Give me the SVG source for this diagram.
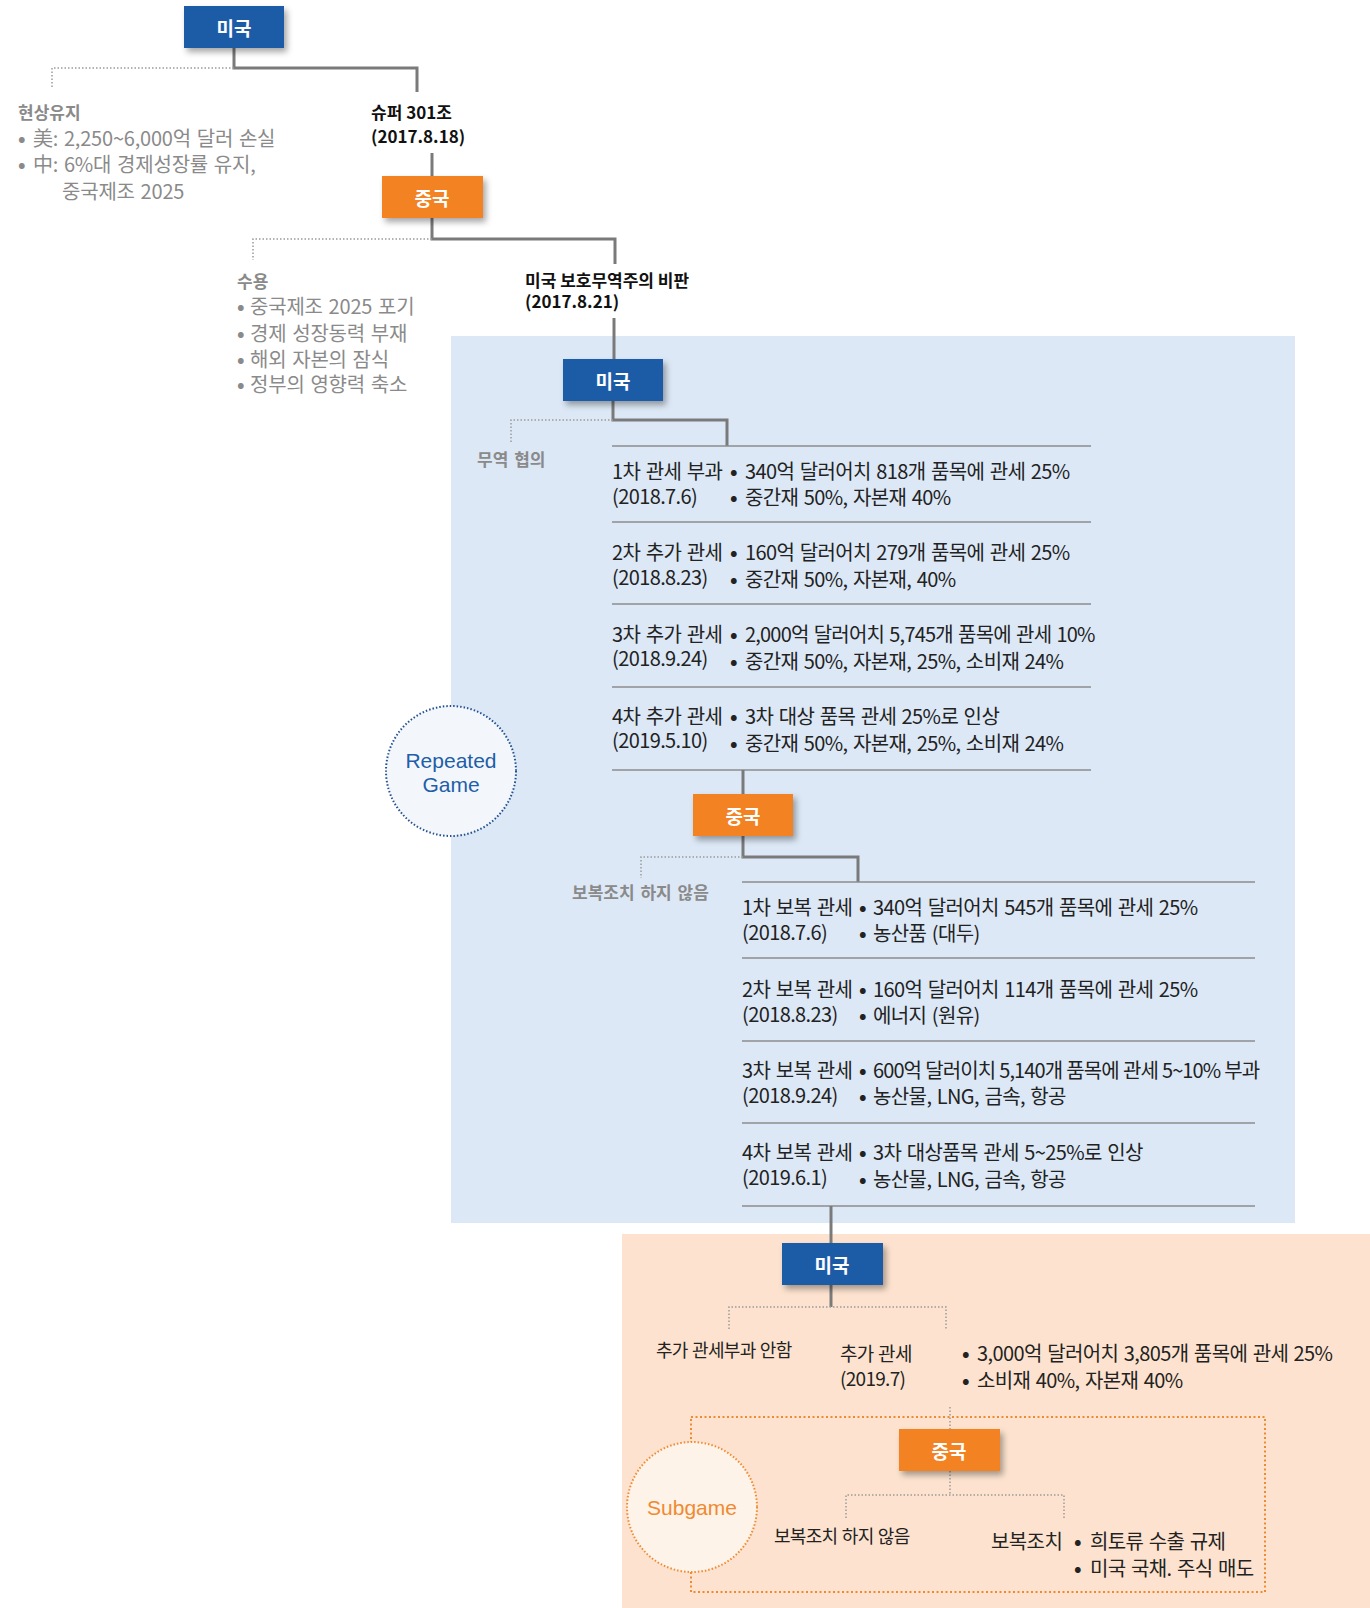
<svg xmlns="http://www.w3.org/2000/svg" width="1370" height="1608" viewBox="0 0 1370 1608">
<defs>
<filter id="sh" x="-20%" y="-20%" width="150%" height="170%">
<feDropShadow dx="3" dy="4" stdDeviation="3" flood-color="#000" flood-opacity="0.35"/>
</filter>
<style>
text{font-family:"Noto Sans CJK KR","Noto Sans",sans-serif;dominant-baseline:central}
.bb{fill:#1c5ba7}
.bo{fill:#f28224}
.lbl{fill:#fff;font-size:19px;font-weight:700;text-anchor:middle}
.conn{stroke:#7a7a7a;stroke-width:3;fill:none}
.dot{stroke:#9a9a9a;stroke-width:1.5;stroke-dasharray:1.5 2;fill:none}
.sep{stroke:#8c8c8c;stroke-width:1.5;fill:none}
.t{font-size:20px;fill:#222;letter-spacing:-0.6px;word-spacing:1.5px}
.g{font-size:20px;fill:#8a8a8a;letter-spacing:-0.2px;word-spacing:1.5px}
.gb{font-size:17px;fill:#8a8a8a;font-weight:700;letter-spacing:0px;word-spacing:2px}
.h{font-size:17px;fill:#111;font-weight:700;letter-spacing:0px}
.s{font-size:18px;fill:#222;letter-spacing:-0.7px;word-spacing:1px}
.b{font-weight:700}
.en{font-family:"Liberation Sans",Arial,sans-serif;font-size:21px;text-anchor:middle}
</style>
</defs>

<!-- backgrounds -->
<rect x="451" y="336" width="844" height="887" fill="#dce8f6"/>
<rect x="622" y="1234" width="748" height="374" fill="#fde3cf"/>

<!-- connectors -->
<g id="connectors">
<polyline class="conn" points="234,48 234,68 417,68 417,92"/>
<polyline class="dot" points="234,68 52,68 52,89"/>
<line class="conn" x1="432" y1="153" x2="432" y2="176"/>
<polyline class="conn" points="432,218 432,239 615,239 615,264"/>
<polyline class="dot" points="432,239 253,239 253,260"/>
<line class="conn" x1="614" y1="318" x2="614" y2="359"/>
<polyline class="conn" points="613,401 613,420 727,420 727,446"/>
<polyline class="dot" points="613,420 511,420 511,444"/>
<line class="sep" x1="612" y1="446" x2="1091" y2="446"/>
<line class="sep" x1="612" y1="522" x2="1091" y2="522"/>
<line class="sep" x1="612" y1="604" x2="1091" y2="604"/>
<line class="sep" x1="612" y1="687" x2="1091" y2="687"/>
<line class="sep" x1="612" y1="770" x2="1091" y2="770"/>
<line class="conn" x1="743" y1="770" x2="743" y2="794"/>
<polyline class="conn" points="743,836 743,857 858,857 858,882"/>
<polyline class="dot" points="743,857 641,857 641,878"/>
<line class="sep" x1="742" y1="882" x2="1255" y2="882"/>
<line class="sep" x1="742" y1="958" x2="1255" y2="958"/>
<line class="sep" x1="742" y1="1041" x2="1255" y2="1041"/>
<line class="sep" x1="742" y1="1123" x2="1255" y2="1123"/>
<line class="sep" x1="742" y1="1206" x2="1255" y2="1206"/>
<line class="conn" x1="831" y1="1206" x2="831" y2="1243"/>
<line class="conn" x1="831" y1="1285" x2="831" y2="1307"/>
<polyline class="dot" points="729,1329 729,1307 946,1307 946,1329"/>
<line class="dot" x1="950" y1="1407" x2="950" y2="1429"/>
<line class="dot" x1="950" y1="1471" x2="950" y2="1495"/>
<polyline class="dot" points="846,1518 846,1495 1064,1495 1064,1518"/>
<rect x="691" y="1417" width="574" height="175" fill="none" stroke="#f08a30" stroke-width="2" stroke-dasharray="2 2.5"/>
</g>

<!-- nodes -->
<g id="usa1"><rect class="bb" x="184" y="6" width="100" height="42" filter="url(#sh)"/><text class="lbl" x="234" y="27">미국</text></g>
<g id="status-quo">
<text class="gb" x="18" y="111">현상유지</text>
<text class="g" x="18" y="137"><tspan class="b">•</tspan><tspan x="33">美: 2,250~6,000억 달러 손실</tspan><tspan x="18" dy="26" class="b">•</tspan><tspan x="33">中: 6%대 경제성장률 유지,</tspan><tspan x="62" dy="27">중국제조 2025</tspan></text>
</g>
<g id="super301">
<text class="h" x="371" y="111">슈퍼 301조<tspan x="371" dy="24">(2017.8.18)</tspan></text>
</g>
<g id="china1"><rect class="bo" x="382" y="176" width="101" height="42" filter="url(#sh)"/><text class="lbl" x="432" y="197">중국</text></g>
<g id="accept">
<text class="gb" x="237" y="280">수용</text>
<text class="g" x="237" y="305"><tspan class="b">•</tspan><tspan x="250">중국제조 2025 포기</tspan><tspan x="237" dy="27" class="b">•</tspan><tspan x="250">경제 성장동력 부재</tspan><tspan x="237" dy="26" class="b">•</tspan><tspan x="250">해외 자본의 잠식</tspan><tspan x="237" dy="25" class="b">•</tspan><tspan x="250">정부의 영향력 축소</tspan></text>
</g>
<g id="criticism">
<text class="h" x="525" y="279">미국 보호무역주의 비판<tspan x="525" dy="21">(2017.8.21)</tspan></text>
</g>
<g id="usa2"><rect class="bb" x="563" y="359" width="100" height="42" filter="url(#sh)"/><text class="lbl" x="613" y="380">미국</text></g>
<g id="trade-talks"><text class="gb" x="477" y="458">무역 협의</text></g>
<g id="us-tariffs">
<text class="t" x="612" y="470">1차 관세 부과<tspan x="612" dy="25">(2018.7.6)</tspan></text>
<text class="t" x="730" y="470"><tspan class="b">•</tspan><tspan x="745">340억 달러어치 818개 품목에 관세 25%</tspan><tspan x="730" dy="26" class="b">•</tspan><tspan x="745">중간재 50%, 자본재 40%</tspan></text>
<text class="t" x="612" y="551">2차 추가 관세<tspan x="612" dy="25">(2018.8.23)</tspan></text>
<text class="t" x="730" y="551"><tspan class="b">•</tspan><tspan x="745">160억 달러어치 279개 품목에 관세 25%</tspan><tspan x="730" dy="27" class="b">•</tspan><tspan x="745">중간재 50%, 자본재, 40%</tspan></text>
<text class="t" x="612" y="633">3차 추가 관세<tspan x="612" dy="24">(2018.9.24)</tspan></text>
<text class="t" x="730" y="633"><tspan class="b">•</tspan><tspan x="745" style="letter-spacing:-0.8px">2,000억 달러어치 5,745개 품목에 관세 10%</tspan><tspan x="730" dy="27" class="b">•</tspan><tspan x="745">중간재 50%, 자본재, 25%, 소비재 24%</tspan></text>
<text class="t" x="612" y="715">4차 추가 관세<tspan x="612" dy="24">(2019.5.10)</tspan></text>
<text class="t" x="730" y="715"><tspan class="b">•</tspan><tspan x="745">3차 대상 품목 관세 25%로 인상</tspan><tspan x="730" dy="27" class="b">•</tspan><tspan x="745">중간재 50%, 자본재, 25%, 소비재 24%</tspan></text>
</g>
<g id="repeated-game">
<circle cx="451" cy="771" r="65" fill="#f3f7fc" stroke="#23508e" stroke-width="2" stroke-dasharray="1.5 2"/>
<text class="en" x="451" y="760" fill="#1f5ea8">Repeated<tspan x="451" dy="24">Game</tspan></text>
</g>
<g id="china2"><rect class="bo" x="693" y="794" width="100" height="42" filter="url(#sh)"/><text class="lbl" x="743" y="815">중국</text></g>
<g id="no-retaliation1"><text class="gb" x="572" y="891">보복조치 하지 않음</text></g>
<g id="cn-tariffs">
<text class="t" x="742" y="906">1차 보복 관세<tspan x="742" dy="25">(2018.7.6)</tspan></text>
<text class="t" x="859" y="906"><tspan class="b">•</tspan><tspan x="873">340억 달러어치 545개 품목에 관세 25%</tspan><tspan x="859" dy="26" class="b">•</tspan><tspan x="873">농산품 (대두)</tspan></text>
<text class="t" x="742" y="988">2차 보복 관세<tspan x="742" dy="25">(2018.8.23)</tspan></text>
<text class="t" x="859" y="988"><tspan class="b">•</tspan><tspan x="873">160억 달러어치 114개 품목에 관세 25%</tspan><tspan x="859" dy="26" class="b">•</tspan><tspan x="873">에너지 (원유)</tspan></text>
<text class="t" x="742" y="1069">3차 보복 관세<tspan x="742" dy="25">(2018.9.24)</tspan></text>
<text class="t" x="859" y="1069"><tspan class="b">•</tspan><tspan x="873" style="letter-spacing:-0.9px;word-spacing:0.5px">600억 달러이치 5,140개 품목에 관세 5~10% 부과</tspan><tspan x="859" dy="26" class="b">•</tspan><tspan x="873">농산물, LNG, 금속, 항공</tspan></text>
<text class="t" x="742" y="1151">4차 보복 관세<tspan x="742" dy="25">(2019.6.1)</tspan></text>
<text class="t" x="859" y="1151"><tspan class="b">•</tspan><tspan x="873">3차 대상품목 관세 5~25%로 인상</tspan><tspan x="859" dy="27" class="b">•</tspan><tspan x="873">농산물, LNG, 금속, 항공</tspan></text>
</g>
<g id="usa3"><rect class="bb" x="782" y="1243" width="101" height="42" filter="url(#sh)"/><text class="lbl" x="832" y="1264">미국</text></g>
<g id="no-extra"><text class="s" x="656" y="1349">추가 관세부과 안함</text></g>
<g id="extra-tariff">
<text class="s" x="840" y="1352" style="font-size:19px">추가 관세<tspan x="840" dy="25">(2019.7)</tspan></text>
<text class="t" x="962" y="1352"><tspan class="b">•</tspan><tspan x="977">3,000억 달러어치 3,805개 품목에 관세 25%</tspan><tspan x="962" dy="27" class="b">•</tspan><tspan x="977">소비재 40%, 자본재 40%</tspan></text>
</g>
<g id="china3"><rect class="bo" x="899" y="1429" width="101" height="42" filter="url(#sh)"/><text class="lbl" x="949" y="1450">중국</text></g>
<g id="subgame">
<circle cx="692" cy="1507" r="65" fill="#fdf3e9" stroke="#f08a30" stroke-width="2" stroke-dasharray="1.5 2"/>
<text class="en" x="692" y="1507" fill="#f08a30">Subgame</text>
</g>
<g id="no-retaliation2"><text class="s" x="774" y="1535">보복조치 하지 않음</text></g>
<g id="retaliation">
<text class="t" x="991" y="1540">보복조치</text>
<text class="t" x="1074" y="1540"><tspan class="b">•</tspan><tspan x="1090">희토류 수출 규제</tspan><tspan x="1074" dy="27" class="b">•</tspan><tspan x="1090">미국 국채. 주식 매도</tspan></text>
</g>
</svg>
